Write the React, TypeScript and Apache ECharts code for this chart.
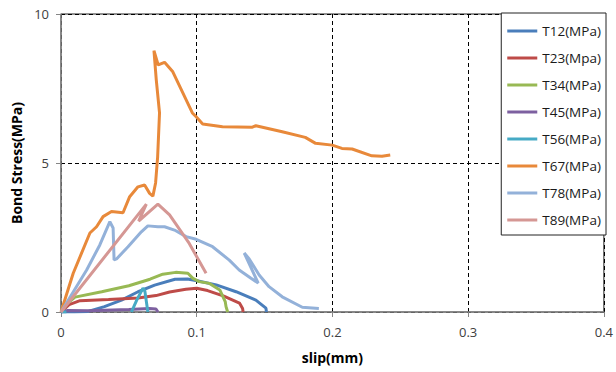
import React, { useEffect, useRef } from "react";
import * as echarts from "echarts";

const seriesNames = ["T12(MPa)", "T23(Mpa)", "T34(MPa)", "T45(MPa)", "T56(MPa)", "T67(MPa)", "T78(MPa)", "T89(MPa)"];
const seriesColors = ["#4A7EBB", "#BE4B48", "#98B954", "#7D60A0", "#46AAC5", "#E8893A", "#93B1D9", "#D59794"];

const T12 = [[0, 0], [0.01, 0.0], [0.02, 0.02], [0.032, 0.18], [0.0446, 0.4], [0.0568, 0.68], [0.069, 0.9], [0.084, 1.1], [0.0932, 1.11], [0.1002, 1.05], [0.1144, 0.91], [0.129, 0.68], [0.1436, 0.4], [0.151, 0.13], [0.1514, 0.0]];
const T23 = [[0, 0], [0.006, 0.25], [0.014, 0.38], [0.035, 0.42], [0.0567, 0.47], [0.07, 0.55], [0.08, 0.67], [0.092, 0.76], [0.1, 0.8], [0.108, 0.72], [0.12, 0.53], [0.1315, 0.3], [0.1338, 0.12], [0.1342, 0]];
const T34 = [[0, 0], [0.005, 0.3], [0.0103, 0.5], [0.03, 0.68], [0.05, 0.88], [0.0656, 1.1], [0.075, 1.27], [0.0845, 1.33], [0.0935, 1.3], [0.0972, 1.13], [0.1018, 1.02], [0.1094, 0.96], [0.117, 0.74], [0.121, 0.35], [0.1216, 0.18], [0.1228, 0]];
const T45 = [[0, 0], [0.005, 0.05], [0.02, 0.04], [0.05, 0.08], [0.065, 0.12], [0.07, 0.1], [0.0715, 0.0]];
const T56 = [[0, 0], [0.004, 0], ["-", "-"], [0.0519, 0], [0.0558, 0.4], [0.0604, 0.8], [0.0618, 0.7], [0.064, 0]];
const T67 = [[0, 0], [0.009, 1.3], [0.0213, 2.65], [0.0262, 2.86], [0.031, 3.2], [0.0372, 3.37], [0.0457, 3.33], [0.0506, 3.87], [0.0567, 4.2], [0.0616, 4.26], [0.0653, 3.98], [0.0677, 3.89], [0.0697, 4.33], [0.0712, 5.2], [0.0726, 6.68], [0.0702, 7.79], [0.0685, 8.77], [0.0716, 8.29], [0.0763, 8.38], [0.0824, 8.06], [0.0968, 6.68], [0.0996, 6.55], [0.1044, 6.31], [0.119, 6.22], [0.141, 6.2], [0.1436, 6.25], [0.163, 6.05], [0.18, 5.86], [0.1876, 5.66], [0.1998, 5.6], [0.207, 5.49], [0.2145, 5.47], [0.229, 5.24], [0.2365, 5.23], [0.2426, 5.27]];
const T78 = [[0, 0], [0.0189, 1.41], [0.0286, 2.25], [0.036, 3.03], [0.0384, 2.82], [0.0391, 1.75], [0.0409, 1.78], [0.0494, 2.19], [0.0592, 2.69], [0.064, 2.89], [0.0714, 2.86], [0.0763, 2.86], [0.0836, 2.75], [0.0922, 2.53], [0.0996, 2.44], [0.1117, 2.19], [0.124, 1.74], [0.1313, 1.41], [0.14, 1.13], [0.1453, 0.97], [0.135, 1.98], [0.1387, 1.78], [0.146, 1.24], [0.1533, 0.85], [0.163, 0.51], [0.1778, 0.16], [0.19, 0.12]];
const T89 = [[0, 0], [0.0629, 3.62], [0.0572, 3.05], [0.0714, 3.62], [0.08, 3.26], [0.0945, 2.3], [0.1069, 1.3]];

const seriesData = [T12, T23, T34, T45, T56, T67, T78, T89];
const xTicks = { min: 0, max: 0.4, interval: 0.1 };
const yTicks = { min: 0, max: 10, interval: 5 };
const xTitle = "slip(mm)";
const yTitle = "Bond Stress(MPa)";

export default function App() {
  const ref = useRef<HTMLDivElement>(null);
  useEffect(() => {
    if (!ref.current) return;
    const chart = echarts.init(ref.current, null, { renderer: "svg" });
    const font = "'Open Sans', 'Noto Sans', sans-serif";
    chart.setOption({
      animation: false,
      backgroundColor: "#ffffff",
      textStyle: { fontFamily: font },
      grid: { left: 61, right: 10, top: 14, bottom: 60, show: true, borderColor: "#222", borderWidth: 1, backgroundColor: "transparent" },
      legend: {
        orient: "vertical",
        right: 10,
        top: 13,
        data: seriesNames,
        icon: "rect",
        itemWidth: 30,
        itemHeight: 3,
        itemGap: 11,
        padding: [10, 5, 7, 6],
        borderColor: "#222",
        borderWidth: 1,
        backgroundColor: "#ffffff",
        textStyle: { fontSize: 13.5, lineHeight: 16, color: "#1a1a1a", fontFamily: font },
      },
      xAxis: {
        type: "value",
        min: xTicks.min,
        max: xTicks.max,
        interval: xTicks.interval,
        name: xTitle,
        nameLocation: "middle",
        nameGap: 38,
        nameTextStyle: { fontSize: 14, fontWeight: "bold", color: "#000", fontFamily: font },
        axisLine: { show: true, lineStyle: { color: "#868686", width: 1.5 } },
        axisTick: { show: true, length: 5, lineStyle: { color: "#868686" } },
        axisLabel: { fontSize: 13, color: "#404040", margin: 13, fontFamily: font },
        splitLine: { show: true, lineStyle: { type: [4, 3], color: "#000", width: 1 } },
      },
      yAxis: {
        type: "value",
        min: yTicks.min,
        max: yTicks.max,
        interval: yTicks.interval,
        name: yTitle,
        nameLocation: "middle",
        nameGap: 38,
        nameTextStyle: { fontSize: 14, fontWeight: "bold", color: "#000", fontFamily: font },
        axisLine: { show: true, lineStyle: { color: "#868686", width: 1.5 } },
        axisTick: { show: true, length: 5, lineStyle: { color: "#868686" } },
        axisLabel: { fontSize: 13, color: "#404040", margin: 12, fontFamily: font },
        splitLine: { show: true, lineStyle: { type: [4, 3], color: "#000", width: 1 } },
      },
      series: seriesNames.map((name, i) => ({
        name,
        type: "line",
        data: seriesData[i],
        showSymbol: false,
        symbol: "none",
        connectNulls: false,
        color: seriesColors[i],
        lineStyle: { width: 3, color: seriesColors[i] },
      })),
    });
    return () => chart.dispose();
  }, []);
  return <div ref={ref} style={{ position: "fixed", left: 0, top: 0, width: 616, height: 372 }} />;
}
